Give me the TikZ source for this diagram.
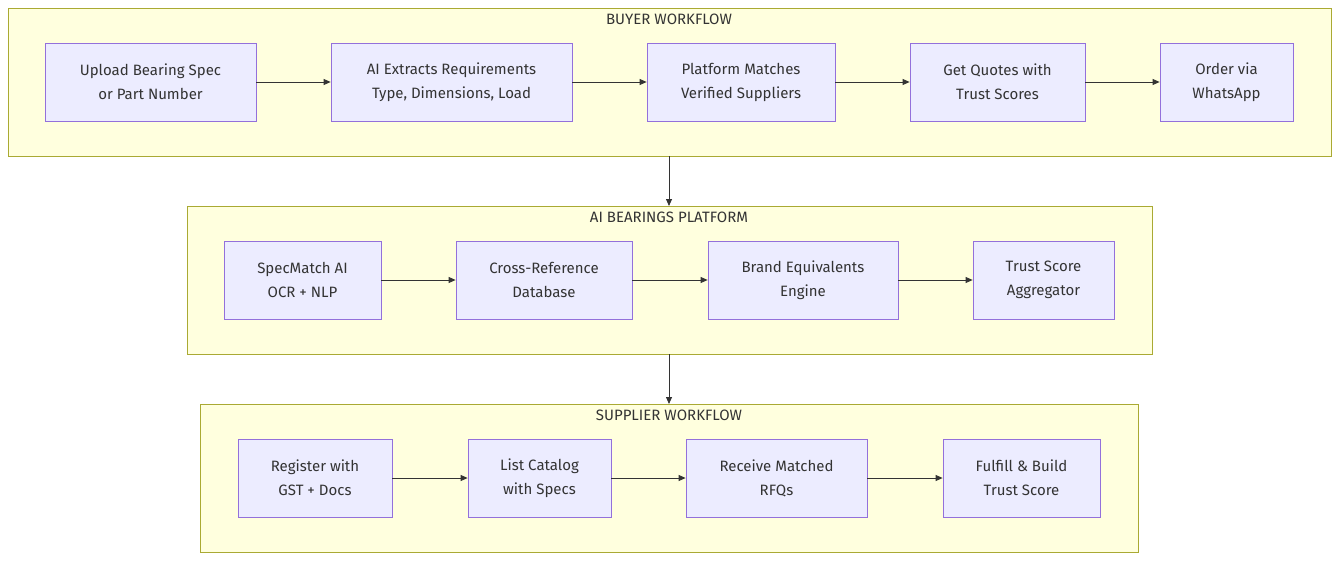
\documentclass[tikz,border=0pt]{standalone}
\usepackage{fontspec}
\setmainfont{Fira Sans}
\usetikzlibrary{arrows.meta}
\definecolor{clfill}{HTML}{FFFFDE}
\definecolor{clline}{HTML}{AAAA33}
\definecolor{ndfill}{HTML}{ECECFF}
\definecolor{ndline}{HTML}{9370DB}
\definecolor{ink}{HTML}{333333}
\begin{document}
\begin{tikzpicture}[x=1pt,y=-1pt,
  cl/.style={draw=clline,fill=clfill,line width=0.8pt},
  nd/.style={draw=ndline,fill=ndfill,line width=0.8pt,align=center,inner sep=0pt,text=ink,font=\fontsize{15}{24}\selectfont},
  ttl/.style={text=ink,font=\fontsize{15}{18}\selectfont},
  ar/.style={draw=ink,line width=0.8pt,-{Triangle[length=7pt,width=6pt]}}]
\useasboundingbox (0,0) rectangle (1339,560);
\newcommand{\bx}[6]{\node[nd,minimum width={#4-#2},minimum height={#5-#3}] (#1) at ({(#2+#4)/2},{(#3+#5)/2}) {#6};}
% clusters
\draw[cl] (8,8) rectangle (1331,156);
\node[ttl] (t1) at (669,19) {BUYER WORKFLOW};
\draw[cl] (187,206) rectangle (1152,354);
\node[ttl] (t2) at (669,217) {AI BEARINGS PLATFORM};
\draw[cl] (200,404) rectangle (1138,552);
\node[ttl] (t3) at (669,415) {SUPPLIER WORKFLOW};
\coordinate (c1b) at (669,156);
\coordinate (c2t) at (669,206);
\coordinate (c2b) at (669,354);
\coordinate (c3t) at (669,404);
% buyer
\bx{a1}{45}{43}{256}{121}{Upload Bearing Spec\\or Part Number}
\bx{a2}{331}{43}{572}{121}{AI Extracts Requirements\\Type, Dimensions, Load}
\bx{a3}{647}{43}{835}{121}{Platform Matches\\Verified Suppliers}
\bx{a4}{910}{43}{1085}{121}{Get Quotes with\\Trust Scores}
\bx{a5}{1160}{43}{1293}{121}{Order via\\WhatsApp}
% platform
\bx{b1}{224}{241}{381}{319}{SpecMatch AI\\OCR + NLP}
\bx{b2}{456}{241}{632}{319}{Cross-Reference\\Database}
\bx{b3}{708}{241}{898}{319}{Brand Equivalents\\Engine}
\bx{b4}{973}{241}{1114}{319}{Trust Score\\Aggregator}
% supplier
\bx{s1}{238}{439}{392}{517}{Register with\\GST + Docs}
\bx{s2}{468}{439}{611}{517}{List Catalog\\with Specs}
\bx{s3}{686}{439}{867}{517}{Receive Matched\\RFQs}
\bx{s4}{943}{439}{1100}{517}{Fulfill \& Build\\Trust Score}
\foreach \p/\q in {a1/a2,a2/a3,a3/a4,a4/a5,b1/b2,b2/b3,b3/b4,s1/s2,s2/s3,s3/s4}
  \draw[ar] (\p) -- (\q);
\draw[ar] (c1b) -- (c2t);
\draw[ar] (c2b) -- (c3t);
\end{tikzpicture}
\end{document}
